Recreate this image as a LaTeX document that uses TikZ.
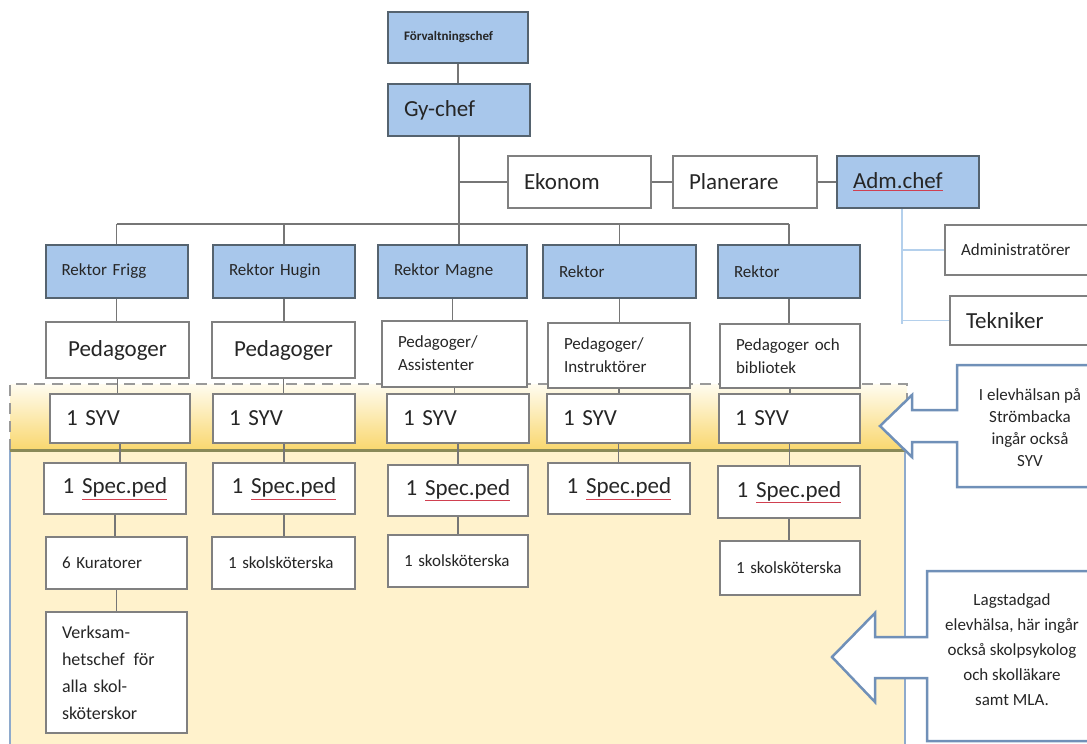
\documentclass[tikz,border=0pt]{standalone}
\usepackage{fontspec}
\setmainfont{Carlito}

\definecolor{chefblue}{HTML}{A8C7EB}
\definecolor{chefedge}{HTML}{55636F}
\definecolor{boxgray}{HTML}{808080}
\definecolor{linkgray}{HTML}{767676}
\definecolor{admblue}{HTML}{B4D0EC}
\definecolor{bandtop}{HTML}{FFFCF0}
\definecolor{bandbot}{HTML}{F9D76E}
\definecolor{panelfill}{HTML}{FFF2CC}
\definecolor{paneledge}{HTML}{8EAACC}
\definecolor{olivebar}{HTML}{8A8A58}
\definecolor{calloutedge}{HTML}{7090B8}
\definecolor{squigred}{HTML}{D04050}
\definecolor{inktext}{HTML}{262626}

% spell-check underline as it shows in the picture
\newcommand{\stavfel}[1]{\textcolor{squigred}{\underline{\textcolor{inktext}{#1}}}}

\tikzset{
  orgbox/.style={draw=boxgray, line width=2pt, fill=white, text=inktext,
    minimum width=142pt, text width=110pt, inner xsep=16pt, inner ysep=0pt,
    align=left, font=\fontsize{17}{23}\selectfont},
  chefbox/.style={orgbox, draw=chefedge, fill=chefblue},
  boxw/.style={minimum width=#1pt, text width={#1pt-32pt}},
  bigfont/.style={font=\fontsize{23}{27}\selectfont},
  link/.style={draw=linkgray, line width=1.8pt},
  admlink/.style={draw=admblue, line width=1.8pt},
  callout/.style={draw=calloutedge, fill=white, line width=2.5pt, line join=miter},
  notetext/.style={align=center, text=inktext, inner sep=0pt, font=\fontsize{17}{22}\selectfont},
}

\begin{document}
\begin{tikzpicture}[x=1pt,y=-1pt]
\useasboundingbox (0,0) rectangle (1087,744);
\clip (0,0) rectangle (1087,744);
% Elevhälsa band and lower panel
\shade[top color=bandtop, bottom color=bandbot] (10,384) rectangle (907,450);
\draw[boxgray!80, line width=1.2pt, dash pattern=on 11pt off 7pt] (10,450) -- (10,384) -- (907,384) -- (907,450);
\fill[panelfill] (10,450) rectangle (905,750);
\draw[paneledge, line width=2.5pt] (10,450) -- (10,750);
\draw[paneledge, line width=2.5pt] (905,450) -- (905,750);
\draw[olivebar, line width=3pt] (10,450) -- (907,450);

% Callouts on the right
\draw[callout] (1095,365) -- (957,365) -- (957,410) -- (912,410) -- (912,395) -- (880,426)
  -- (912,457) -- (912,442) -- (957,442) -- (957,487) -- (1095,487);
\node[notetext] (syvnote) at (1030,428) {I elevhälsan på\\Strömbacka\\ingår också\\SYV};
\draw[callout] (1095,571) -- (927,571) -- (927,637) -- (875,637) -- (875,613) -- (832,657)
  -- (875,702) -- (875,678) -- (927,678) -- (927,741) -- (1095,741);
\node[notetext, font=\fontsize{17}{25}\selectfont] (lagnote) at (1012,650)
  {Lagstadgad\\elevhälsa, här ingår\\också skolpsykolog\\och skolläkare\\samt MLA.};

% Top of the organisation
\node[chefbox, boxw=140, minimum height=51pt, font=\bfseries\fontsize{13}{15}\selectfont] (forv) at (458,37.5) {Förvaltningschef};
\node[chefbox, boxw=142, minimum height=52pt, bigfont] (gychef) at (459,110) {Gy-chef};
\node[orgbox, boxw=143, minimum height=52pt, bigfont] (ekonom) at (579.5,182) {Ekonom};
\node[orgbox, boxw=144, minimum height=52pt, bigfont] (planerare) at (745,182) {Planerare};
\node[chefbox, boxw=142, minimum height=52pt, bigfont] (admchef) at (908,182) {\stavfel{Adm.chef}};
\node[orgbox, boxw=150, minimum height=50pt] (admin) at (1020,250) {Administratörer};
\node[orgbox, boxw=145, minimum height=49pt, bigfont] (tekniker) at (1022.5,320.5) {Tekniker};

% Rektorer
\node[chefbox, boxw=142, minimum height=53pt] (rek1) at (116.5,271.5) {Rektor Frigg};
\node[chefbox, boxw=142, minimum height=53pt] (rek2) at (284,271.5) {Rektor Hugin};
\node[chefbox, boxw=149, minimum height=53pt] (rek3) at (452.5,271.5) {Rektor Magne};
\node[chefbox, boxw=153, minimum height=53pt] (rek4) at (619.5,271.5) {Rektor};
\node[chefbox, boxw=142, minimum height=53pt] (rek5) at (789,271.5) {Rektor};

% Pedagoger
\node[orgbox, boxw=143, minimum height=56pt, bigfont, align=center] (ped1) at (117.5,350) {Pedagoger};
\node[orgbox, boxw=143, minimum height=56pt, bigfont, align=center] (ped2) at (283.5,350) {Pedagoger};
\node[orgbox, boxw=145, minimum height=66pt] (ped3) at (454.5,353.5) {Pedagoger/\\Assistenter};
\node[orgbox, boxw=142, minimum height=65pt] (ped4) at (619,355.5) {Pedagoger/\\Instruktörer};
\node[orgbox, boxw=140, minimum height=64pt] (ped5) at (790,356) {Pedagoger och\\bibliotek};

% SYV
\node[orgbox, boxw=140, minimum height=49pt, bigfont] (syv1) at (120,418.5) {1 SYV};
\node[orgbox, boxw=142, minimum height=49pt, bigfont] (syv2) at (284,418.5) {1 SYV};
\node[orgbox, boxw=142, minimum height=49pt, bigfont] (syv3) at (458,418.5) {1 SYV};
\node[orgbox, boxw=143, minimum height=49pt, bigfont] (syv4) at (618.5,418.5) {1 SYV};
\node[orgbox, boxw=141, minimum height=49pt, bigfont] (syv5) at (789.5,418.5) {1 SYV};

% Specialpedagoger
\node[orgbox, boxw=142, minimum height=51pt, bigfont, align=center] (spec1) at (115,488.5) {1 \stavfel{Spec.ped}};
\node[orgbox, boxw=142, minimum height=51pt, bigfont, align=center] (spec2) at (284,488.5) {1 \stavfel{Spec.ped}};
\node[orgbox, boxw=140, minimum height=51pt, bigfont, align=center] (spec3) at (458,490) {1 \stavfel{Spec.ped}};
\node[orgbox, boxw=142, minimum height=51pt, bigfont, align=center] (spec4) at (619,488.5) {1 \stavfel{Spec.ped}};
\node[orgbox, boxw=142, minimum height=52pt, bigfont, align=center] (spec5) at (789,492) {1 \stavfel{Spec.ped}};

% Kuratorer and skolsköterskor
\node[orgbox, boxw=141, minimum height=52pt] (sko1) at (116.5,563) {6 Kuratorer};
\node[orgbox, boxw=143, minimum height=52pt] (sko2) at (283.5,563) {1 skolsköterska};
\node[orgbox, boxw=140, minimum height=52pt] (sko3) at (458,561) {1 skolsköterska};
\node[orgbox, boxw=140, minimum height=54pt] (sko5) at (790,568) {1 skolsköterska};
\node[orgbox, boxw=141, minimum height=121pt, font=\fontsize{18}{27}\selectfont] (verks) at (116.5,672.5)
  {Verksam-\\hetschef\enspace för\\alla skol-\\sköterskor};

% Connectors
\draw[link] (forv.south) -- (forv.south |- gychef.north);
\draw[link] (gychef.south) -- (gychef.south |- rek3.north);
\draw[link] (gychef.south |- ekonom.west) -- (ekonom.west);
\draw[link] (ekonom.east) -- (planerare.west);
\draw[link] (planerare.east) -- (admchef.west);
\coordinate (busL) at (116.5,224);
\coordinate (busR) at (789,224);
\draw[link] (busL) -- (busR);
\foreach \r in {rek1,rek2,rek4,rek5}
  \draw[link] (\r.north |- busL) -- (\r.north);
\foreach \a/\b in {rek1/ped1, ped1/syv1, syv1/spec1, spec1/sko1, sko1/verks,
                   rek2/ped2, ped2/syv2, syv2/spec2, spec2/sko2,
                   rek3/ped3, ped3/syv3, syv3/spec3, spec3/sko3,
                   rek4/ped4, ped4/syv4, syv4/spec4,
                   rek5/ped5, ped5/syv5, syv5/spec5, spec5/sko5}
  \draw[link] (\a.south) -- (\a.south |- \b.north);
\coordinate (admfoot) at (902,324);
\draw[admlink] (admchef.south -| admfoot) -- (admfoot);
\draw[admlink] (admfoot |- admin.west) -- (admin.west);
\draw[admlink] (admfoot |- tekniker.west) -- (tekniker.west);
\end{tikzpicture}
\end{document}
